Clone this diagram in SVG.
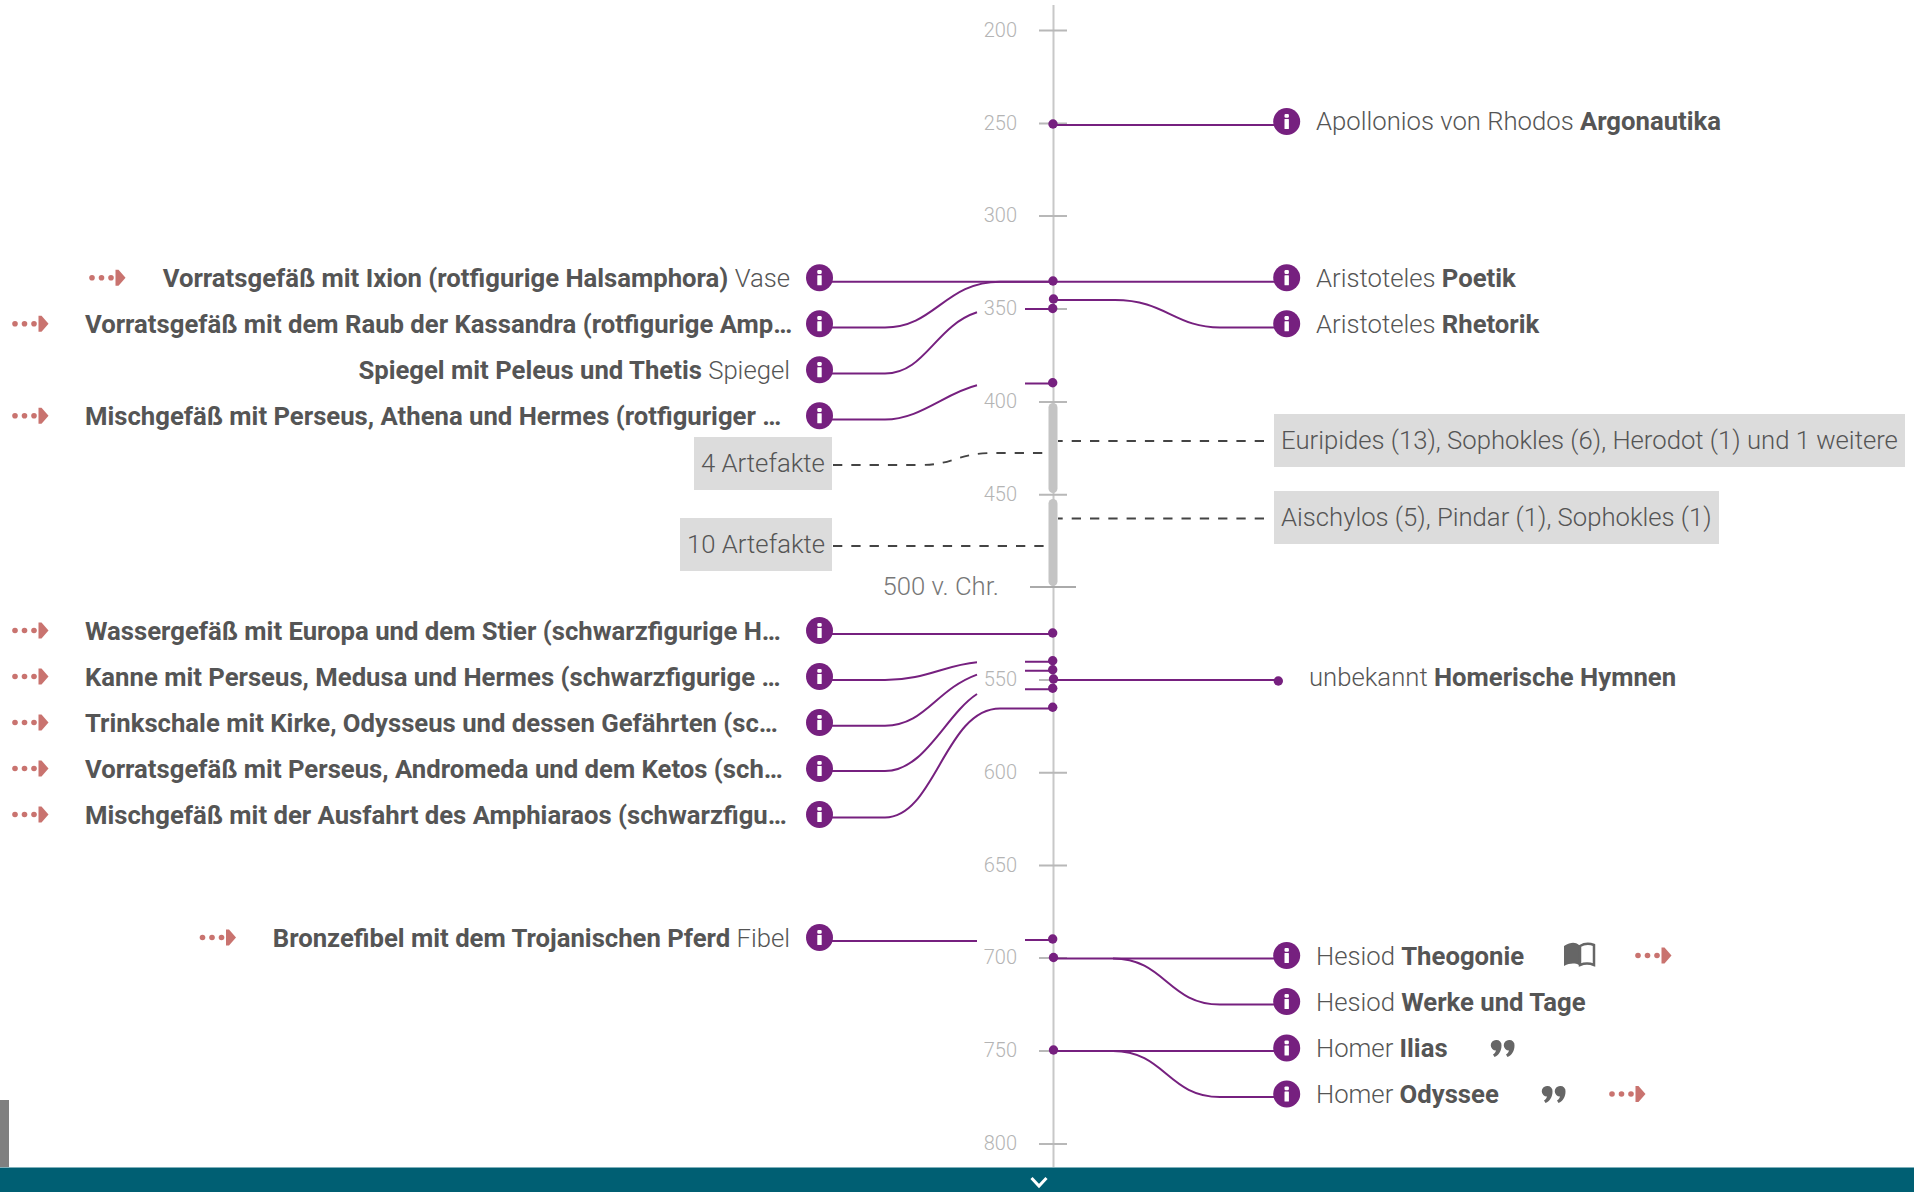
<svg xmlns="http://www.w3.org/2000/svg" width="1914" height="1192" viewBox="0 0 1914 1192">
<style>
text{font-family:Roboto,"Liberation Sans",sans-serif}
.l{font-size:25.700px;font-weight:300;fill:#555}
.b{font-weight:700;fill:#555}
.e{text-anchor:end}
.t{font-size:20px;font-weight:300;fill:#b4b4b4;text-anchor:end}
.tk{stroke:#b8b8b8;stroke-width:2;fill:none}
.c{stroke:#76207f;stroke-width:2;fill:none}
.d{fill:#76207f}
.dash{stroke:#444;stroke-width:1.800;stroke-dasharray:9.300 9;fill:none}
.box{fill:#dcdcdc}
.bar{fill:#c4c4c4}
</style>
<defs>
<g id="info"><circle r="13.500" fill="#76207f"/><rect x="-2.200" y="-7.600" width="4.400" height="3.800" rx="1.200" fill="#fff"/><rect x="-2.200" y="-2.400" width="4.400" height="10" rx="0.500" fill="#fff"/></g>
<g id="arrow" fill="#c9736f"><circle cx="3" cy="0" r="2.800"/><circle cx="12.500" cy="0" r="2.800"/><circle cx="22" cy="0" r="2.800"/><path d="M26.500-8H29.500L36.500 0L29.500 8H26.500z"/></g>
<path id="quote" fill="#666" d="M5 0a5 5 0 0 1 5.500 5.500C10.500 11 8 15 3.500 17L2 14.500C3.500 13.500 4.800 12 5 10.500A5.200 5.200 0 0 1 5 0zM18 0a5 5 0 0 1 5.500 5.500C23.500 11 21 15 16.500 17L15 14.500C16.500 13.500 17.800 12 18 10.500A5.200 5.200 0 0 1 18 0z"/>
</defs>
<rect width="1914" height="1192" fill="#fff"/>
<g id="axis">
<line x1="1053.500" y1="5" x2="1053.500" y2="1168" stroke="#c8c8c8" stroke-width="2"/>
<path class="tk" d="M1039 30.500H1067M1039 123.500H1067M1039 216H1067M1039 309H1067M1039 402H1067M1039 494.700H1067M1039 680H1067M1039 772.700H1067M1039 865.500H1067M1039 958H1067M1039 1051H1067M1039 1144H1067"/>
<path d="M1030 587H1076" stroke="#aaa" stroke-width="2"/>
<rect class="bar" x="1048.500" y="403" width="9" height="90" rx="4.500"/>
<rect class="bar" x="1048.500" y="499" width="9" height="87" rx="4.500"/>
<text class="t" x="1017" y="36.500">200</text>
<text class="t" x="1017" y="129.500">250</text>
<text class="t" x="1017" y="222">300</text>
<text class="t" x="1017" y="315">350</text>
<text class="t" x="1017" y="407.500">400</text>
<text class="t" x="1017" y="500.500">450</text>
<text x="999" y="595" font-size="25.700" font-weight="300" fill="#777" text-anchor="end">500 v. Chr.</text>
<text class="t" x="1017" y="686">550</text>
<text class="t" x="1017" y="779">600</text>
<text class="t" x="1017" y="871.500">650</text>
<text class="t" x="1017" y="964">700</text>
<text class="t" x="1017" y="1057">750</text>
<text class="t" x="1017" y="1150">800</text>
</g>
<g id="connectors">
<path class="c" d="M820 281.700H1287"/>
<path class="c" d="M1053 125H1287"/>
<path class="c" d="M820 327.500H885C935 327.500 945 281.700 1000 281.700H1053"/>
<path class="c" d="M820 373.500H885C925 373.500 935 326 977 312.300"/>
<path class="c" d="M820 419.500H885C920 419.500 945 393 977 385.300"/>
<path class="c" d="M1025 309H1053M1025 383.500H1053"/>
<path class="c" d="M1053 300H1115C1165 300 1175 327.500 1220 327.500H1287"/>
<path class="c" d="M820 634H1053"/>
<path class="c" d="M820 680H885C925 680 945 665 977 662.300"/>
<path class="c" d="M820 725.700H885C925 725.700 935 690 977 674.600"/>
<path class="c" d="M820 771H885C925 771 945 715 977 694"/>
<path class="c" d="M820 817.500H885C935 817.500 945 708.500 1000 708.500H1053"/>
<path class="c" d="M1025 661.700H1053M1025 670.700H1053M1025 689.300H1053"/>
<path class="c" d="M1053 680H1278"/>
<path class="c" d="M820 941H977M1025 940H1053"/>
<path class="c" d="M1053 958.500H1287"/>
<path class="c" d="M1113 958.500C1165 958.500 1168 1004.500 1220 1004.500H1287"/>
<path class="c" d="M1053 1051H1287"/>
<path class="c" d="M1113 1051C1165 1051 1168 1097 1220 1097H1287"/>
<path class="dash" d="M833 465H920C955 465 955 453 995 453H1045"/>
<path class="dash" d="M833 546H1045"/>
<path class="dash" stroke-dashoffset="4.600" d="M1058 441H1266"/>
<path class="dash" stroke-dashoffset="4.600" d="M1058 518.500H1266"/>
<g class="d">
<circle cx="1053" cy="124" r="4.700"/><circle cx="1053" cy="281" r="4.700"/><circle cx="1053.500" cy="299" r="4.700"/><circle cx="1052.700" cy="308.500" r="4.700"/><circle cx="1052.700" cy="382.700" r="4.700"/><circle cx="1052.700" cy="633" r="4.700"/><circle cx="1052.700" cy="660.700" r="4.700"/><circle cx="1052.700" cy="669.700" r="4.700"/><circle cx="1053.500" cy="679" r="4.700"/><circle cx="1052.700" cy="688.300" r="4.700"/><circle cx="1052.700" cy="707.300" r="4.700"/><circle cx="1278.300" cy="681" r="4.700"/><circle cx="1052.700" cy="939" r="4.700"/><circle cx="1053.500" cy="957.500" r="4.700"/><circle cx="1053.500" cy="1050" r="4.700"/>
</g>
</g>
<g id="n-ixion"><use href="#arrow" x="89" y="277.700"/><text class="l e" x="790" y="286.500"><tspan class="b">Vorratsgefäß mit Ixion (rotfigurige Halsamphora)</tspan> Vase</text><use href="#info" x="819.500" y="277.700"/></g>
<g id="n-kassandra"><use href="#arrow" x="12" y="323.700"/><text class="l" x="85" y="332.500"><tspan class="b">Vorratsgefäß mit dem Raub der Kassandra (rotfigurige Amp…</tspan></text><use href="#info" x="819.500" y="323.700"/></g>
<g id="n-peleus"><text class="l e" x="790" y="378.500"><tspan class="b">Spiegel mit Peleus und Thetis</tspan> Spiegel</text><use href="#info" x="819.500" y="369.700"/></g>
<g id="n-perseus-athena"><use href="#arrow" x="12" y="415.700"/><text class="l" x="85" y="424.500"><tspan class="b">Mischgefäß mit Perseus, Athena und Hermes (rotfiguriger …</tspan></text><use href="#info" x="819.500" y="415.700"/></g>
<g id="n-4art"><rect class="box" x="694" y="437" width="138" height="53"/><text class="l" x="701" y="472">4 Artefakte</text></g>
<g id="n-10art"><rect class="box" x="680" y="518" width="152" height="53"/><text class="l" x="687" y="553">10 Artefakte</text></g>
<g id="n-europa"><use href="#arrow" x="12" y="630.500"/><text class="l" x="85" y="639.500"><tspan class="b">Wassergefäß mit Europa und dem Stier (schwarzfigurige H…</tspan></text><use href="#info" x="819.500" y="630.500"/></g>
<g id="n-medusa"><use href="#arrow" x="12" y="676.500"/><text class="l" x="85" y="685.500"><tspan class="b">Kanne mit Perseus, Medusa und Hermes (schwarzfigurige …</tspan></text><use href="#info" x="819.500" y="676.500"/></g>
<g id="n-kirke"><use href="#arrow" x="12" y="722.500"/><text class="l" x="85" y="731.500"><tspan class="b">Trinkschale mit Kirke, Odysseus und dessen Gefährten (sc…</tspan></text><use href="#info" x="819.500" y="722.500"/></g>
<g id="n-andromeda"><use href="#arrow" x="12" y="768.500"/><text class="l" x="85" y="777.500"><tspan class="b">Vorratsgefäß mit Perseus, Andromeda und dem Ketos (sch…</tspan></text><use href="#info" x="819.500" y="768.500"/></g>
<g id="n-amphiaraos"><use href="#arrow" x="12" y="814.500"/><text class="l" x="85" y="823.500"><tspan class="b">Mischgefäß mit der Ausfahrt des Amphiaraos (schwarzfigu…</tspan></text><use href="#info" x="819.500" y="814.500"/></g>
<g id="n-fibel"><use href="#arrow" x="199.500" y="937.500"/><text class="l e" x="790" y="946.500"><tspan class="b">Bronzefibel mit dem Trojanischen Pferd</tspan> Fibel</text><use href="#info" x="819.500" y="937.500"/></g>
<g id="n-argonautika"><use href="#info" x="1286.700" y="121.500"/><text class="l" x="1316" y="130">Apollonios von Rhodos <tspan class="b">Argonautika</tspan></text></g>
<g id="n-poetik"><use href="#info" x="1286.700" y="277.700"/><text class="l" x="1316" y="286.500">Aristoteles <tspan class="b">Poetik</tspan></text></g>
<g id="n-rhetorik"><use href="#info" x="1286.700" y="323.700"/><text class="l" x="1316" y="332.500">Aristoteles <tspan class="b">Rhetorik</tspan></text></g>
<g id="n-euripides"><rect class="box" x="1274" y="414" width="631" height="53"/><text class="l" x="1281" y="449">Euripides (13), Sophokles (6), Herodot (1) und 1 weitere</text></g>
<g id="n-aischylos"><rect class="box" x="1274" y="491" width="445" height="53"/><text class="l" x="1281" y="526">Aischylos (5), Pindar (1), Sophokles (1)</text></g>
<g id="n-hymnen"><text class="l" x="1309" y="686">unbekannt <tspan class="b">Homerische Hymnen</tspan></text></g>
<g id="n-theogonie"><use href="#info" x="1286.700" y="955.500"/><text class="l" x="1316" y="964.500">Hesiod <tspan class="b">Theogonie</tspan></text>
<path fill="#666" d="M1564 946C1571 942 1575 942 1579 945V965C1575 963 1570 963 1564 966z"/><path fill="none" stroke="#666" stroke-width="2.500" d="M1580 946C1585 943 1589 943 1594 945V965C1589 963 1585 963 1580 965z"/>
<use href="#arrow" x="1635" y="955.500"/></g>
<g id="n-werke"><use href="#info" x="1286.700" y="1001.500"/><text class="l" x="1316" y="1010.500">Hesiod <tspan class="b">Werke und Tage</tspan></text></g>
<g id="n-ilias"><use href="#info" x="1286.700" y="1048"/><text class="l" x="1316" y="1057">Homer <tspan class="b">Ilias</tspan></text><use href="#quote" x="1491" y="1040"/></g>
<g id="n-odyssee"><use href="#info" x="1286.700" y="1094"/><text class="l" x="1316" y="1103">Homer <tspan class="b">Odyssee</tspan></text><use href="#quote" x="1542" y="1086"/><use href="#arrow" x="1609" y="1094"/></g>
<rect id="scroll" x="0" y="1100" width="9" height="68" fill="#808080"/>
<g id="footer"><rect x="0" y="1167" width="1914" height="25" fill="#005f73"/><rect x="0" y="1167" width="1914" height="1" fill="#7fb0ba"/><path d="M1031.500 1178L1039 1186L1046.500 1178" fill="none" stroke="#fff" stroke-width="3"/></g>
</svg>
